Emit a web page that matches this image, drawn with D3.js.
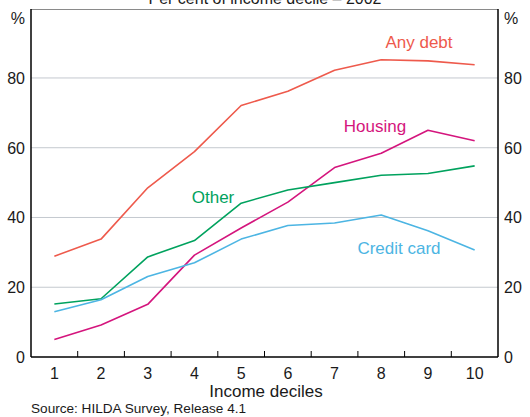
<!DOCTYPE html>
<html>
<head>
<meta charset="utf-8">
<script src="https://cdn.jsdelivr.net/npm/d3@7/dist/d3.min.js"></script>
<style>
  html, body { margin: 0; padding: 0; background: #fff; }
  svg { display: block; font-family: Arial, "Liberation Sans", sans-serif; }
</style>
</head>
<body>
<svg id="chart" width="530" height="417"></svg>
<script>
const deciles = ["1","2","3","4","5","6","7","8","9","10"];
const anyDebt    = [28.9, 33.8, 48.5, 58.9, 72.1, 76.2, 82.2, 85.2, 84.9, 83.8];
const housing    = [5.0, 9.2, 15.1, 29.2, 37.0, 44.4, 54.3, 58.4, 65.0, 62.0];
const other      = [15.2, 16.7, 28.7, 33.4, 44.1, 47.9, 50.0, 52.1, 52.6, 54.8];
const creditCard = [13.0, 16.4, 23.1, 27.0, 33.8, 37.7, 38.4, 40.7, 36.2, 30.7];
const yTicks = [0, 20, 40, 60, 80];
const seriesNames = ["Any debt", "Housing", "Other", "Credit card"];
const title = "Per cent of income decile – 2002";
const xTitle = "Income deciles";
const source = "Source: HILDA Survey, Release 4.1";

const series = [
  {name: seriesNames[0], values: anyDebt,    color: "#ee5a4c", lx: 419, ly: 48},
  {name: seriesNames[1], values: housing,    color: "#d4157d", lx: 375, ly: 132},
  {name: seriesNames[2], values: other,      color: "#00a25e", lx: 213, ly: 203},
  {name: seriesNames[3], values: creditCard, color: "#4cb5e3", lx: 399, ly: 254}
];

const svg = d3.select("#chart");
const L = 31, R = 498, T = 9, B = 357;

const x = d3.scaleBand().domain(deciles).range([L, R]).padding(0);
const y = d3.scaleLinear().domain([0, 100]).range([B, 8.2]);

// gridlines
svg.append("g").selectAll("line").data(yTicks.filter(d => d > 0)).join("line")
  .attr("x1", L).attr("x2", R)
  .attr("y1", d => y(d)).attr("y2", d => y(d))
  .attr("stroke", "#c4c9cf").attr("stroke-width", 1);

// frame
svg.append("line").attr("x1", L).attr("x2", R).attr("y1", T + 0.5).attr("y2", T + 0.5)
  .attr("stroke", "#8a8a8a").attr("stroke-width", 1);
svg.append("line").attr("x1", L).attr("x2", L).attr("y1", T).attr("y2", B)
  .attr("stroke", "#000").attr("stroke-width", 1.5);
svg.append("line").attr("x1", R).attr("x2", R).attr("y1", T).attr("y2", B)
  .attr("stroke", "#000").attr("stroke-width", 1.5);

// x axis
const xAxis = svg.append("g").attr("transform", `translate(0,${B})`);
xAxis.append("line").attr("x1", L).attr("x2", R).attr("stroke", "#000").attr("stroke-width", 1.5);
xAxis.selectAll("line.tk").data(deciles.slice(1)).join("line").attr("class", "tk")
  .attr("x1", d => x(d)).attr("x2", d => x(d)).attr("y1", 0).attr("y2", -6)
  .attr("stroke", "#000").attr("stroke-width", 1);
xAxis.selectAll("text").data(deciles).join("text")
  .attr("x", d => x(d) + x.bandwidth() / 2).attr("y", 22)
  .attr("text-anchor", "middle").attr("font-size", 16).attr("fill", "#1a1a1a")
  .text(d => d);

// y labels
svg.append("g").selectAll("text").data(yTicks).join("text")
  .attr("x", 25).attr("y", d => y(d) + 6)
  .attr("text-anchor", "end").attr("font-size", 16).attr("fill", "#1a1a1a").text(d => d);
svg.append("g").selectAll("text").data(yTicks).join("text")
  .attr("x", 504).attr("y", d => y(d) + 6)
  .attr("text-anchor", "start").attr("font-size", 16).attr("fill", "#1a1a1a").text(d => d);
svg.append("text").attr("x", 25).attr("y", 24).attr("text-anchor", "end")
  .attr("font-size", 16).attr("fill", "#1a1a1a").text("%");
svg.append("text").attr("x", 504).attr("y", 24).attr("text-anchor", "start")
  .attr("font-size", 16).attr("fill", "#1a1a1a").text("%");

// lines
const line = d3.line().x((d, i) => x(deciles[i]) + x.bandwidth() / 2).y(d => y(d));
svg.append("g").selectAll("path").data(series).join("path")
  .attr("d", d => line(d.values)).attr("fill", "none")
  .attr("stroke", d => d.color).attr("stroke-width", 1.6).attr("stroke-linejoin", "round");

svg.append("g").selectAll("text").data(series).join("text")
  .attr("x", d => d.lx).attr("y", d => d.ly).attr("text-anchor", "middle")
  .attr("font-size", 17).attr("fill", d => d.color).text(d => d.name);

// titles
svg.append("text").attr("x", 265).attr("y", 3.5).attr("text-anchor", "middle")
  .attr("font-size", 16).attr("fill", "#1a1a1a").text(title);
svg.append("text").attr("x", 266).attr("y", 397).attr("text-anchor", "middle")
  .attr("font-size", 17).attr("fill", "#1a1a1a").text(xTitle);
svg.append("text").attr("x", 31).attr("y", 412.5).attr("text-anchor", "start")
  .attr("font-size", 13.6).attr("fill", "#1a1a1a").text(source);
</script>
</body>
</html>
